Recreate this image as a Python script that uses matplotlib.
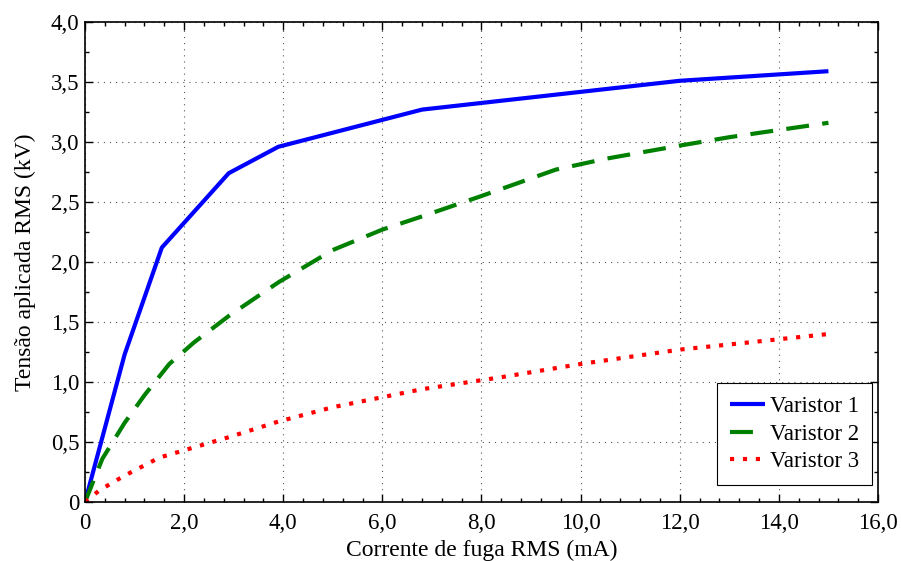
import matplotlib
matplotlib.use("Agg")
import matplotlib.pyplot as plt
from matplotlib.ticker import MultipleLocator, FuncFormatter

plt.rcParams['font.family'] = ['Liberation Serif', 'DejaVu Serif']

# Data
v1_x = [0, 0.8, 1.55, 2.9, 3.9, 6.8, 12.0, 15.0]
v1_y = [0, 1.23, 2.12, 2.74, 2.96, 3.27, 3.51, 3.59]

v2_x = [0, 0.35, 0.8, 1.2, 1.7, 2.2, 2.9, 3.9, 5.0, 6.0, 6.8, 8.0, 9.5, 10.5, 12.0, 13.0, 14.0, 15.0]
v2_y = [0, 0.36, 0.66, 0.89, 1.15, 1.33, 1.55, 1.83, 2.10, 2.27, 2.38, 2.55, 2.77, 2.86, 2.97, 3.04, 3.10, 3.16]

v3_x = [0, 0.3, 0.8, 1.5, 2.9, 3.9, 5.0, 6.8, 8.4, 10.0, 12.0, 13.4, 15.0]
v3_y = [0, 0.10, 0.22, 0.37, 0.54, 0.67, 0.79, 0.94, 1.04, 1.15, 1.27, 1.33, 1.40]

labels = ["Varistor 1", "Varistor 2", "Varistor 3"]
xlabel = "Corrente de fuga RMS (mA)"
ylabel = "Tensão aplicada RMS (kV)"

fig = plt.figure(figsize=(9.01, 5.61), dpi=100)
ax = fig.add_axes([85/901, 59/561, 793/901, 480/561])

lw = 3.0
ax.plot(v1_x, v1_y, color='#0000ff', lw=lw, label=labels[0], solid_capstyle='butt')
ax.plot(v2_x, v2_y, color='#008000', lw=lw, label=labels[1], dashes=(5.5, 3.2), dash_capstyle='butt')
ax.plot(v3_x, v3_y, color='#ff0000', lw=lw, label=labels[2], dashes=(1.0, 2.1), dash_capstyle='butt')

ax.set_xlim(0, 16)
ax.set_ylim(0, 4)
ax.xaxis.set_major_locator(MultipleLocator(2))
ax.xaxis.set_minor_locator(MultipleLocator(0.4))
ax.yaxis.set_major_locator(MultipleLocator(0.5))
ax.yaxis.set_minor_locator(MultipleLocator(0.25))

def fmt(v, pos):
    if abs(v) < 1e-9:
        return "0"
    return ("%.1f" % v).replace('.', ',')

ax.xaxis.set_major_formatter(FuncFormatter(fmt))
ax.yaxis.set_major_formatter(FuncFormatter(fmt))

ax.tick_params(which='both', direction='in', top=True, right=True, labelsize=16.5, width=1.0)
ax.tick_params(which='major', length=5.5)
ax.tick_params(axis='x', which='major', pad=8)
ax.tick_params(axis='y', which='major', pad=4)
ax.tick_params(which='minor', length=2.7)
for s in ax.spines.values():
    s.set_linewidth(1.2)

ax.grid(True, which='major', linestyle=(0, (1, 4.5)), color='#555555', linewidth=0.8)

ax.set_xlabel(xlabel, fontsize=17, labelpad=4)
ax.set_ylabel(ylabel, fontsize=17, labelpad=11)

leg = ax.legend(loc='lower right', bbox_to_anchor=((872-85)/793, (502-485)/480),
                borderaxespad=0, fontsize=16.4, fancybox=False, framealpha=1,
                edgecolor='black', handlelength=1.55, handletextpad=0.22,
                borderpad=0.57, labelspacing=0.28)
leg.get_frame().set_linewidth(0.8)

fig.savefig("out.png", dpi=100)
